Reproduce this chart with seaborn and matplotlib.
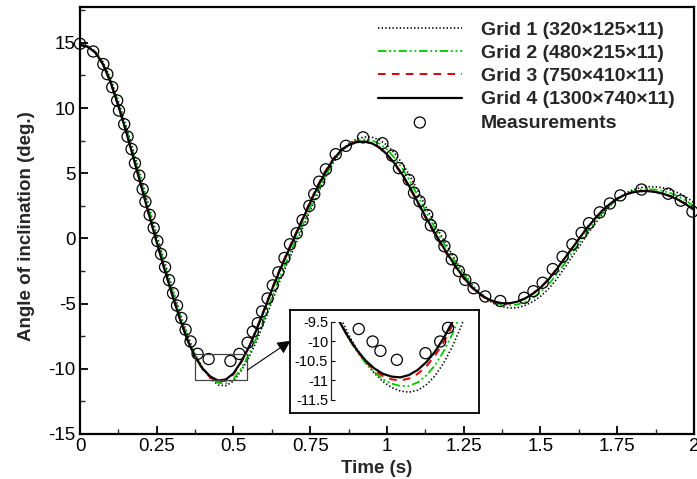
import matplotlib
matplotlib.use("Agg")
import matplotlib.pyplot as plt
import seaborn as sns
from matplotlib.patches import Rectangle
from matplotlib.ticker import FixedLocator, MultipleLocator

# ---------------- data ----------------
time = [0.000, 0.025, 0.050, 0.075, 0.100, 0.125, 0.150, 0.175, 0.200, 0.225,
        0.250, 0.275, 0.300, 0.325, 0.350, 0.375, 0.400, 0.425, 0.450, 0.475,
        0.500, 0.525, 0.550, 0.575, 0.600, 0.625, 0.650, 0.675, 0.700, 0.725,
        0.750, 0.775, 0.800, 0.825, 0.850, 0.875, 0.900, 0.925, 0.950, 0.975,
        1.000, 1.025, 1.050, 1.075, 1.100, 1.125, 1.150, 1.175, 1.200, 1.225,
        1.250, 1.275, 1.300, 1.325, 1.350, 1.375, 1.400, 1.425, 1.450, 1.475,
        1.500, 1.525, 1.550, 1.575, 1.600, 1.625, 1.650, 1.675, 1.700, 1.725,
        1.750, 1.775, 1.800, 1.825, 1.850, 1.875, 1.900, 1.925, 1.950, 1.975,
        2.000]

grid1 = [14.85, 14.74, 14.35, 13.53, 12.23, 10.52, 8.64, 6.61, 4.50, 2.38,
         0.29, -1.77, -3.75, -5.66, -7.42, -8.90, -9.97, -10.74, -11.24, -11.30,
         -10.95, -10.15, -9.15, -7.88, -6.42, -4.85, -3.32, -1.90, -0.56, 0.78,
         2.13, 3.47, 4.70, 5.81, 6.70, 7.26, 7.61, 7.78, 7.77, 7.57,
         7.15, 6.53, 5.74, 4.78, 3.67, 2.50, 1.37, 0.29, -0.75, -1.75,
         -2.66, -3.50, -4.17, -4.67, -5.03, -5.25, -5.34, -5.31, -5.13, -4.85,
         -4.44, -3.90, -3.20, -2.38, -1.52, -0.66, 0.23, 1.04, 1.81, 2.46,
         3.02, 3.44, 3.72, 3.89, 3.97, 3.96, 3.87, 3.71, 3.48, 3.16,
         2.75]

grid2 = [14.85, 14.72, 14.31, 13.46, 12.12, 10.37, 8.47, 6.41, 4.29, 2.16,
         0.07, -1.98, -3.94, -5.83, -7.55, -8.95, -9.96, -10.66, -11.08, -11.13,
         -10.78, -9.97, -8.93, -7.62, -6.13, -4.54, -3.03, -1.63, -0.30, 1.03,
         2.36, 3.66, 4.84, 5.88, 6.69, 7.18, 7.48, 7.59, 7.53, 7.28,
         6.82, 6.17, 5.36, 4.39, 3.28, 2.15, 1.06, 0.02, -0.97, -1.92,
         -2.78, -3.56, -4.16, -4.60, -4.91, -5.09, -5.14, -5.07, -4.86, -4.55,
         -4.12, -3.56, -2.85, -2.04, -1.22, -0.39, 0.45, 1.21, 1.92, 2.51,
         3.00, 3.37, 3.60, 3.74, 3.78, 3.75, 3.63, 3.46, 3.21, 2.88,
         2.48]

grid3 = [14.85, 14.70, 14.25, 13.35, 11.95, 10.15, 8.20, 6.10, 3.95, 1.80,
         -0.30, -2.35, -4.30, -6.15, -7.80, -9.12, -10.05, -10.68, -10.98, -10.92,
         -10.42, -9.50, -8.35, -6.95, -5.42, -3.85, -2.40, -1.05, 0.25, 1.55,
         2.85, 4.10, 5.20, 6.12, 6.80, 7.20, 7.42, 7.45, 7.30, 6.95,
         6.40, 5.68, 4.82, 3.80, 2.70, 1.60, 0.55, -0.45, -1.40, -2.28,
         -3.07, -3.75, -4.27, -4.65, -4.90, -5.00, -4.98, -4.85, -4.60, -4.23,
         -3.75, -3.15, -2.42, -1.62, -0.82, -0.02, 0.78, 1.48, 2.12, 2.65,
         3.07, 3.37, 3.55, 3.64, 3.64, 3.57, 3.43, 3.22, 2.95, 2.60,
         2.20]

grid4 = [14.85, 14.70, 14.25, 13.35, 11.95, 10.15, 8.20, 6.10, 3.95, 1.80,
         -0.30, -2.35, -4.30, -6.15, -7.80, -9.10, -10.00, -10.60, -10.90, -10.82,
         -10.35, -9.45, -8.35, -7.00, -5.50, -3.95, -2.50, -1.15, 0.15, 1.45,
         2.75, 4.00, 5.10, 6.05, 6.75, 7.15, 7.38, 7.43, 7.30, 6.98,
         6.45, 5.75, 4.90, 3.90, 2.80, 1.70, 0.65, -0.35, -1.30, -2.20,
         -3.00, -3.70, -4.22, -4.60, -4.85, -4.97, -4.97, -4.85, -4.60, -4.25,
         -3.78, -3.18, -2.45, -1.65, -0.85, -0.05, 0.75, 1.45, 2.10, 2.62,
         3.05, 3.35, 3.53, 3.62, 3.63, 3.56, 3.42, 3.22, 2.95, 2.60,
         2.20]

meas_time = [0.000, 0.043, 0.076, 0.089, 0.105, 0.121, 0.127, 0.144, 0.155, 0.168,
             0.179, 0.193, 0.204, 0.213, 0.227, 0.240, 0.252, 0.264, 0.277, 0.290,
             0.303, 0.316, 0.330, 0.344, 0.360, 0.383, 0.419, 0.490, 0.519, 0.546,
             0.563, 0.579, 0.593, 0.611, 0.628, 0.646, 0.666, 0.684, 0.706, 0.725,
             0.747, 0.763, 0.779, 0.801, 0.833, 0.866, 0.922, 0.985, 1.017, 1.039,
             1.071, 1.088, 1.106, 1.131, 1.143, 1.174, 1.187, 1.211, 1.234, 1.255,
             1.282, 1.320, 1.369, 1.447, 1.477, 1.507, 1.540, 1.572, 1.604, 1.634,
             1.658, 1.693, 1.726, 1.760, 1.829, 1.916, 1.957, 1.995]
meas_angle = [14.93, 14.34, 13.37, 12.60, 11.60, 10.58, 9.81, 8.76, 7.81, 6.85,
              5.77, 4.82, 3.78, 2.82, 1.80, 0.80, -0.20, -1.20, -2.20, -3.20,
              -4.20, -5.15, -6.10, -7.00, -7.90, -8.85, -9.25, -9.40, -8.86, -8.00,
              -7.15, -6.50, -5.60, -4.60, -3.60, -2.60, -1.50, -0.45, 0.40, 1.40,
              2.50, 3.40, 4.35, 5.30, 6.46, 7.10, 7.75, 7.30, 6.35, 5.39,
              4.49, 3.50, 2.85, 1.80, 1.00, 0.20, -0.60, -1.60, -2.50, -3.18,
              -3.82, -4.45, -4.80, -4.55, -4.05, -3.40, -2.35, -1.40, -0.45, 0.42,
              1.17, 2.00, 2.68, 3.30, 3.75, 3.43, 2.90, 2.06]

# inset (zoom on the first trough)
inset_time = [0.38, 0.39, 0.40, 0.41, 0.42, 0.43, 0.44, 0.45, 0.46,
              0.47, 0.48, 0.49, 0.50, 0.51, 0.52, 0.53, 0.54]
inset_grid1 = [-8.84, -9.35, -9.81, -10.21, -10.54, -10.81, -11.03, -11.18, -11.27,
               -11.30, -11.25, -11.11, -10.88, -10.55, -10.13, -9.62, -9.01]
inset_grid2 = [-9.03, -9.50, -9.91, -10.26, -10.56, -10.79, -10.97, -11.08, -11.14,
               -11.14, -11.05, -10.87, -10.61, -10.25, -9.81, -9.28, -8.64]
inset_grid3 = [-9.03, -9.50, -9.90, -10.24, -10.52, -10.74, -10.89, -10.97, -11.00,
               -10.95, -10.83, -10.64, -10.36, -10.02, -9.59, -9.09, -8.52]
inset_grid4 = [-9.05, -9.50, -9.89, -10.22, -10.49, -10.69, -10.83, -10.90, -10.92,
               -10.86, -10.73, -10.53, -10.26, -9.91, -9.50, -9.01, -8.47]
inset_meas_time = [0.412, 0.428, 0.437, 0.456, 0.489, 0.506, 0.515]
inset_meas_angle = [-9.68, -10.00, -10.24, -10.47, -10.30, -10.00, -9.65]

series_labels = ["Grid 1 (320\u00d7125\u00d711)", "Grid 2 (480\u00d7215\u00d711)",
                 "Grid 3 (750\u00d7410\u00d711)", "Grid 4 (1300\u00d7740\u00d711)"]
meas_label = "Measurements"
x_ticks = [0, 0.25, 0.5, 0.75, 1, 1.25, 1.5, 1.75, 2]
x_tick_labels = ["0", "0.25", "0.5", "0.75", "1", "1.25", "1.5", "1.75", "2"]
y_ticks = [-15, -10, -5, 0, 5, 10, 15]
y_tick_labels = ["-15", "-10", "-5", "0", "5", "10", "15"]
inset_y_ticks = [-11.5, -11, -10.5, -10, -9.5]
inset_y_tick_labels = ["-11.5", "-11", "-10.5", "-10", "-9.5"]

# ---------------- styling ----------------
sns.set_theme(style="ticks")
plt.rcParams["font.family"] = ["Liberation Sans", "DejaVu Sans"]
plt.rcParams["lines.scale_dashes"] = False
plt.rcParams["axes.linewidth"] = 1.5

styles = [
    dict(color="black", lw=1.2, linestyle=(0, (1.0, 1.6))),
    dict(color="#00c800", lw=1.3, linestyle=(0, (6, 2, 1.4, 2, 1.4, 2))),
    dict(color="#e00000", lw=1.4, linestyle=(0, (5.5, 4.5))),
    dict(color="black", lw=1.6, linestyle="-"),
]

W, H = 697, 479
fig = plt.figure(figsize=(W / 100, H / 100), dpi=100)
ax = fig.add_axes([80 / W, 1 - 434 / H, 614 / W, 427 / H])

for ys, lab, st in zip([grid1, grid2, grid3, grid4], series_labels, styles):
    sns.lineplot(x=time, y=ys, ax=ax, label=lab, estimator=None, sort=False, **st)

sns.scatterplot(x=meas_time, y=meas_angle, ax=ax, marker="o", s=64,
                facecolor="none", edgecolor="black", linewidth=0.9,
                label=meas_label, zorder=5, clip_on=False)

ax.set_xlim(0, 2)
ax.set_ylim(-15, 17.75)
ax.xaxis.set_major_locator(FixedLocator(x_ticks))
ax.set_xticklabels(x_tick_labels)
ax.xaxis.set_minor_locator(MultipleLocator(0.125))
ax.yaxis.set_major_locator(FixedLocator(y_ticks))
ax.set_yticklabels(y_tick_labels)
ax.yaxis.set_minor_locator(MultipleLocator(2.5))
ax.tick_params(which="major", direction="in", length=6, width=1.3,
               labelsize=13.5, pad=3, top=False, right=False, colors="black")
ax.tick_params(which="minor", direction="in", length=3.5, width=1.0,
               top=False, right=False)
for sp in ax.spines.values():
    sp.set_linewidth(1.6)
    sp.set_color("black")

ax.set_xlabel("Time (s)", fontsize=13.5, fontweight="bold")
ax.xaxis.set_label_coords((377 - 80) / 614, (434 - 460) / 427)
ax.set_ylabel("Angle of inclination (deg.)", fontsize=13.5, fontweight="bold")
ax.yaxis.set_label_coords((35 - 80) / 614, (434 - 226) / 427)

handles, labels = ax.get_legend_handles_labels()
leg = ax.legend(handles, labels, loc="upper left",
                bbox_to_anchor=(378 / W, 1 - 21 / H),
                bbox_transform=fig.transFigure, frameon=False,
                prop=dict(weight="bold", size=14), handlelength=4.3,
                handletextpad=1.0, labelspacing=0.29, borderpad=0,
                borderaxespad=0, scatterpoints=1)

# zoom rectangle and arrow on the main plot
ax.add_patch(Rectangle((0.373, -10.85), 0.172, 1.95, fill=False,
                       edgecolor="#444444", lw=0.9, zorder=6))
ax.annotate("", xy=(0.686, -7.85), xytext=(0.545, -10.1),
            arrowprops=dict(arrowstyle="-|>", color="black", lw=0.8,
                            mutation_scale=20, shrinkA=0, shrinkB=0),
            zorder=6)

# inset frame
frame = fig.add_axes([290 / W, 1 - 413 / H, 189 / W, 103 / H], zorder=2)
frame.set_xticks([])
frame.set_yticks([])
frame.set_facecolor("white")
for sp in frame.spines.values():
    sp.set_linewidth(1.3)
    sp.set_color("black")

axin = fig.add_axes([331 / W, 1 - 400 / H, 143 / W, 78 / H], zorder=3)
axin.patch.set_visible(False)
for ys, st in zip([inset_grid1, inset_grid2, inset_grid3, inset_grid4], styles):
    sns.lineplot(x=inset_time, y=ys, ax=axin, estimator=None, sort=False,
                 legend=False, **st)
sns.scatterplot(x=inset_meas_time, y=inset_meas_angle, ax=axin, marker="o", s=64,
                facecolor="none", edgecolor="black", linewidth=0.9,
                legend=False, zorder=5, clip_on=False)
axin.set_xlim(0.38, 0.545)
axin.set_ylim(-11.5, -9.5)
axin.set_xticks([])
axin.yaxis.set_major_locator(FixedLocator(inset_y_ticks))
axin.set_yticklabels(inset_y_tick_labels)
axin.tick_params(axis="y", direction="in", length=3, width=0.8, labelsize=10.5,
                 pad=2, colors="black")
for side in ["top", "right", "bottom"]:
    axin.spines[side].set_visible(False)
axin.spines["left"].set_linewidth(0.9)
axin.set_xlabel("")
axin.set_ylabel("")

fig.savefig("out.png", dpi=100)
